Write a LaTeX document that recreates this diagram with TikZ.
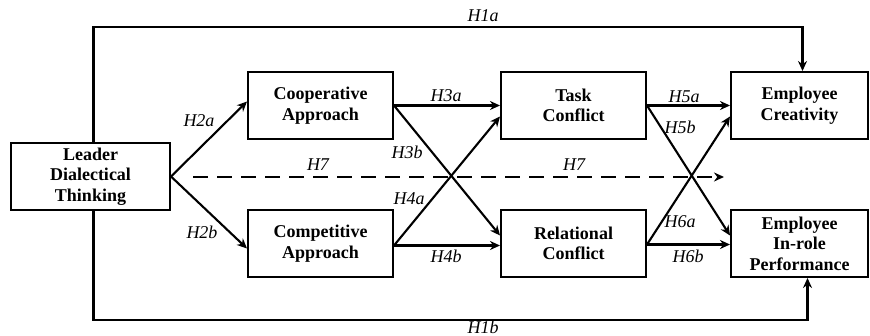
\documentclass[tikz,border=0pt]{standalone}
\usepackage{fontspec}
\setmainfont{Liberation Serif}
\usetikzlibrary{arrows.meta,calc}
\begin{document}
\begin{tikzpicture}[x=1pt,y=-1pt,
  box/.style={draw,line width=2pt,minimum height=67pt,inner sep=2pt,align=center,
    font=\fontsize{18}{20.5}\selectfont\bfseries},
  conn/.style={line width=2.1pt,-{Stealth[length=10pt,width=9pt]}},
  lab/.style={font=\fontsize{18}{20}\selectfont\itshape,inner sep=1pt}]
\useasboundingbox (0,0) rectangle (870,336);
\node[box,minimum width=159pt] (lead) at (90.5,176.5) {Leader\\Dialectical\\Thinking};
\node[box,minimum width=145pt] (coop) at (320.5,105.5) {Cooperative\\Approach};
\node[box,minimum width=145pt] (comp) at (320.5,243.5) {Competitive\\Approach};
\node[box,minimum width=145pt] (task) at (573.5,105.5) {Task\\Conflict};
\node[box,minimum width=145pt] (rel) at (573.5,243.5) {Relational\\Conflict};
\node[box,minimum width=137pt] (crea) at (799.5,105.5) {Employee\\Creativity};
\node[box,minimum width=137pt] (perf) at (799.5,243.5) {Employee\\In-role\\Performance};
% H1a / H1b
\draw[conn] ($(lead.north)+(3,0)$) |- ($(crea.north)+(3,-44)$) -- ($(crea.north)+(3,0)$);
\draw[conn] ($(lead.south)+(3,0)$) |- ($(perf.south)+(8,42)$) -- ($(perf.south)+(8,0)$);
\node[lab] (l1a) at (483,16) {H1a};
\node[lab,inner sep=0pt] (l1b) at (483,327.5) {H1b};
% H2
\draw[conn] (lead.east) -- ($(coop.west)+(0,-4)$);
\draw[conn] (lead.east) -- ($(comp.west)+(0,5)$);
\node[lab] (l2a) at (199,121) {H2a};
\node[lab] (l2b) at (202,232) {H2b};
% H7 dashed
\coordinate (h7s) at (193,177);
\coordinate (h7e) at (724,177);
\draw[conn,line width=2.6pt,dash pattern=on 15pt off 9pt] (h7s) -- (h7e);
\node[lab] (l7a) at (318,165) {H7};
\node[lab] (l7b) at (574,165) {H7};
% H3/H4
\draw[conn] (coop.east) -- (task.west);
\draw[conn] (coop.east) -- ($(rel.west)+(0,-8)$);
\draw[conn] ($(comp.east)+(0,2)$) -- ($(task.west)+(0,11)$);
\draw[conn] ($(comp.east)+(0,2)$) -- ($(rel.west)+(0,2)$);
\node[lab] (l3a) at (446,96) {H3a};
\node[lab] (l3b) at (407,152) {H3b};
\node[lab] (l4a) at (409,199) {H4a};
\node[lab] (l4b) at (446,256) {H4b};
% H5/H6
\draw[conn] (task.east) -- (crea.west);
\draw[conn] (task.east) -- ($(perf.west)+(0,-8)$);
\draw[conn] ($(rel.east)+(0,1)$) -- ($(crea.west)+(0,11)$);
\draw[conn] ($(rel.east)+(0,1)$) -- ($(perf.west)+(0,1)$);
\node[lab] (l5a) at (684,97) {H5a};
\node[lab] (l5b) at (680,127) {H5b};
\node[lab] (l6a) at (680,222) {H6a};
\node[lab] (l6b) at (688,256) {H6b};
\end{tikzpicture}
\end{document}
